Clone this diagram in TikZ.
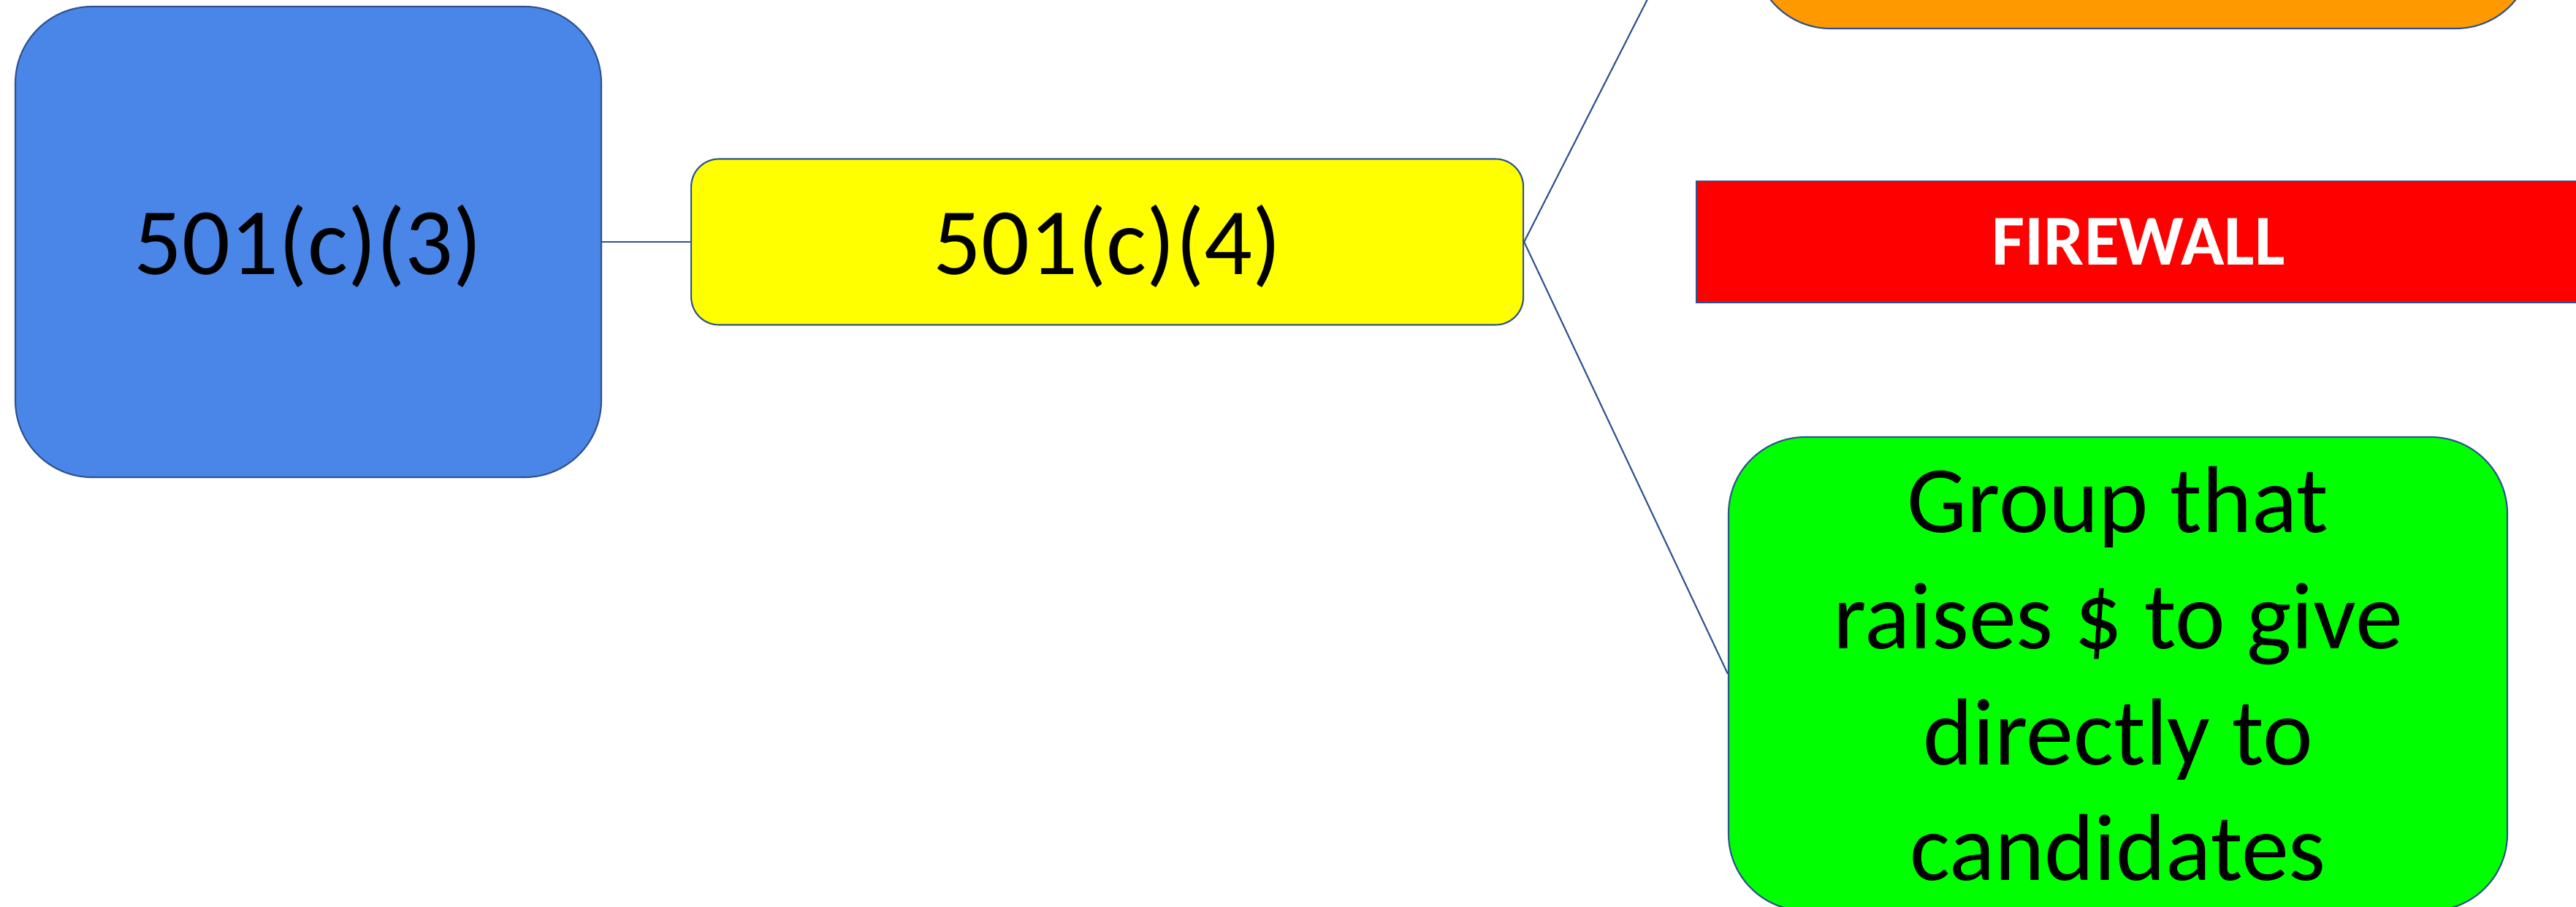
\documentclass[tikz,border=0pt]{standalone}
\usepackage{fontspec}
\setmainfont{Carlito}
\usepackage{tikz}
\usetikzlibrary{positioning}

\definecolor{edge}{HTML}{2F528F}
\definecolor{taxblue}{HTML}{4A86E8}
\definecolor{taxorange}{HTML}{FF9900}
\definecolor{taxyellow}{HTML}{FFFF00}

\begin{document}
\begin{tikzpicture}[-,draw=edge,line width=0.6pt]

  \tikzstyle{box}=[draw=edge,text=black,align=center,inner sep=0pt,
                   font=\fontsize{37}{45.2}\selectfont]
  \tikzstyle{code}=[box,text height=35.2pt,text depth=10pt]
  \tikzstyle{big}=[box,minimum width=10.66cm,minimum height=6.48cm,rounded corners=1.05cm]

  \path[use as bounding box,clip] (0,0) rectangle (35.26,-12.41);

  \node[code,fill=taxblue,minimum width=8.02cm,minimum height=6.44cm,
        rounded corners=1.05cm]                        (c3) at (4.22,-3.31)    {501(c)(3)};
  \node[code,fill=taxyellow,minimum width=11.39cm,minimum height=2.27cm,
        rounded corners=0.38cm]                        (c4) [right=1.21cm of c3] {501(c)(4)};
  \node[big,fill=taxorange]                            (pac) at (29.335,2.85)  {};
  \node[box,fill=red,minimum width=12.1cm,minimum height=1.66cm,
        text=white,font=\fontsize{27.9}{33}\selectfont\bfseries]
                                                       (wall) at (29.27,-3.31) {FIREWALL};
  \node[big,fill=green]                                (grp) at (28.99,-9.22)
        {Group that\\raises \$ to give\\directly to\\candidates};

  \path (c3.east) edge (c4.west)
        (c4.east) edge (pac.west)
        (c4.east) edge (grp.west);
\end{tikzpicture}
\end{document}
